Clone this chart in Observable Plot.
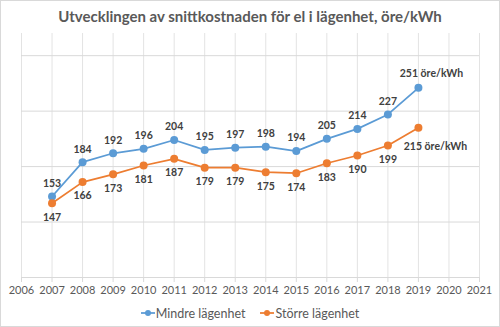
<!DOCTYPE html>
<html><head><meta charset="utf-8">
<script src="https://cdn.jsdelivr.net/npm/d3@7"></script>
<script src="https://cdn.jsdelivr.net/npm/@observablehq/plot@0.6"></script>
<style>
html,body{margin:0;padding:0;background:#fff;}
#wrap{position:relative;width:500px;height:327px;font-family:Lato,"Open Sans",sans-serif;overflow:hidden;}
#frame{position:absolute;left:0;top:0;width:498px;height:325px;border:1px solid #d9d9d9;pointer-events:none;}
#title{height:33px;line-height:32px;text-align:center;font-size:15px;font-weight:700;color:#595959;}
#chart svg{display:block;}
#legend{height:24px;display:flex;justify-content:center;align-items:center;gap:15px;font-size:12.5px;color:#595959;margin-top:-2px;}
#legend span.item{display:flex;align-items:center;gap:1px;}
</style></head>
<body>
<div id="wrap">
<div id="title">Utvecklingen av snittkostnaden för el i lägenhet, öre/kWh</div>
<div id="chart"></div>
<div id="legend"></div>
<div id="frame"></div>
</div>
<script>
const years = [2007,2008,2009,2010,2011,2012,2013,2014,2015,2016,2017,2018,2019];
const mindre = [153,184,192,196,204,195,197,198,194,205,214,227,251];
const storre = [147,166,173,181,187,179,179,175,174,183,190,199,215];
const seriesNames = ["Mindre lägenhet","Större lägenhet"];
const seriesColors = ["#5B9BD5","#ED7D31"];
const xTicks = [2006,2007,2008,2009,2010,2011,2012,2013,2014,2015,2016,2017,2018,2019,2020,2021];
const yTicks = [80,130,180,230,280];
const yDomain = [80,300];
const unit = " öre/kWh";

const rows = [];
years.forEach((y,i)=>{
  rows.push({year:y, value:mindre[i], s:seriesNames[0], last:i===years.length-1});
  rows.push({year:y, value:storre[i], s:seriesNames[1], last:i===years.length-1});
});
const blue = rows.filter(d=>d.s===seriesNames[0]);
const orange = rows.filter(d=>d.s===seriesNames[1]);
const lbl = d => d.last ? d.value + unit : String(d.value);

const plot = Plot.plot({
  width:500, height:270,
  marginLeft:21, marginRight:21, marginTop:0, marginBottom:26,
  x:{domain:[2006,2021]},
  y:{domain:yDomain},
  style:{fontFamily:'Lato,"Open Sans",sans-serif', background:"transparent"},
  marks:[
    Plot.gridX(xTicks,{stroke:"#e3e3e3", strokeOpacity:1}),
    Plot.gridY(yTicks,{stroke:"#d9d9d9", strokeOpacity:1}),
    Plot.axisX(xTicks,{tickFormat:d=>String(d), tickSize:5, tickPadding:4, stroke:"#d9d9d9", fill:"#595959", fontSize:11, label:null}),
    Plot.axisY([], {label:null}),
    Plot.ruleY([yDomain[0]],{stroke:"#d9d9d9"}),
    Plot.line(blue,{x:"year",y:"value",stroke:seriesColors[0],strokeWidth:1.75}),
    Plot.line(orange,{x:"year",y:"value",stroke:seriesColors[1],strokeWidth:1.75}),
    Plot.dot(blue,{x:"year",y:"value",r:4,fill:seriesColors[0],stroke:"none"}),
    Plot.dot(orange,{x:"year",y:"value",r:4,fill:seriesColors[1],stroke:"none"}),
    Plot.text(blue.filter(d=>!d.last),{x:"year",y:"value",text:lbl,dy:-13,fontSize:10.5,fontWeight:"bold",fill:"#404040"}),
    Plot.text(orange.filter(d=>!d.last),{x:"year",y:"value",text:lbl,dy:14,fontSize:10.5,fontWeight:"bold",fill:"#404040"}),
    Plot.text(blue.filter(d=>d.last),{x:"year",y:"value",text:lbl,dx:13,dy:-14,fontSize:10.5,fontWeight:"bold",fill:"#404040"}),
    Plot.text(orange.filter(d=>d.last),{x:"year",y:"value",text:lbl,dx:17,dy:19,fontSize:10.5,fontWeight:"bold",fill:"#404040"})
  ]
});
document.getElementById("chart").appendChild(plot);

const leg = document.getElementById("legend");
seriesNames.forEach((n,i)=>{
  const c = seriesColors[i];
  const item = document.createElement("span");
  item.className="item";
  item.innerHTML = `<svg width="14" height="10"><line x1="0" x2="14" y1="5" y2="5" stroke="${c}" stroke-width="1.75"/><circle cx="7" cy="5" r="3" fill="${c}"/></svg><span>${n}</span>`;
  leg.appendChild(item);
});
</script>
</body></html>
